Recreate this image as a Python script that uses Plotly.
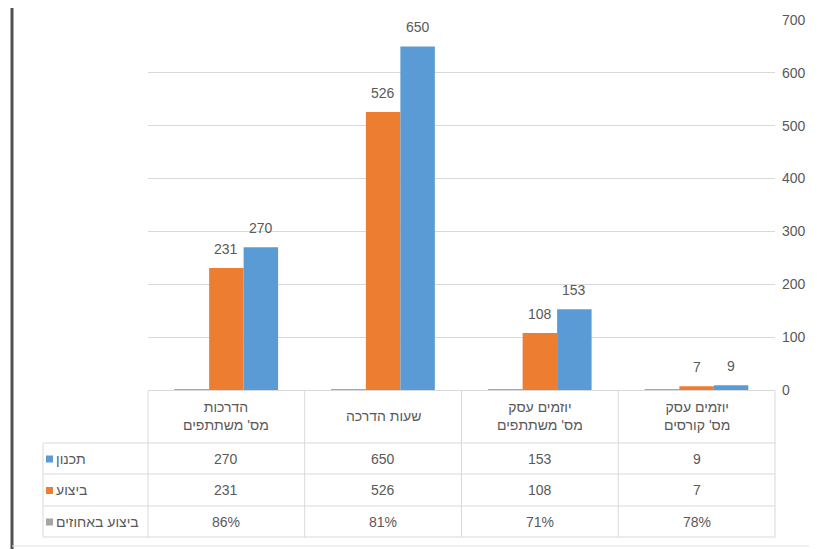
import plotly.graph_objects as go

categories = ["הדרכות<br>מס' משתתפים", "שעות הדרכה", "יוזמים עסק<br>מס' משתתפים", "יוזמים עסק<br>מס' קורסים"]
series_names = ["ביצוע באחוזים", "ביצוע", "תכנון"]
pct_values = [0.86, 0.81, 0.71, 0.78]
actual_values = [231, 526, 108, 7]
plan_values = [270, 650, 153, 9]
pct_labels = ["86%", "81%", "71%", "78%"]
y_ticks = [0, 100, 200, 300, 400, 500, 600, 700]

COL_GRAY = "#A5A5A5"
COL_ORANGE = "#ED7D31"
COL_BLUE = "#5B9BD5"
TXT = "#595959"
LINE = "#D9D9D9"
FONT = "Liberation Sans, DejaVu Sans, sans-serif"

OFF = 8  # default page body margin
W, H = 817 - OFF, 549 - OFF
L, R, T, B = 148 - OFF, 42, 20 - OFF, 159
PW, PH = W - L - R, H - T - B
BARGAP = 0.34


def px(x):
    # page pixel x -> paper
    return (x - OFF - L) / PW


def py(y):
    # page pixel y -> paper
    return (H - B - (y - OFF)) / PH


xs = list(range(len(categories)))

fig = go.Figure()
fig.add_bar(x=xs, y=pct_values, name=series_names[0], marker=dict(color=COL_GRAY, line=dict(color=COL_GRAY, width=1)))
fig.add_bar(x=xs, y=actual_values, name=series_names[1], marker=dict(color=COL_ORANGE, line=dict(width=0)))
fig.add_bar(x=xs, y=plan_values, name=series_names[2], marker=dict(color=COL_BLUE, line=dict(width=0)))

shapes = []
annotations = []

# data labels above orange and blue bars
bw = (1 - BARGAP) / 3
for k, vals in ((0, actual_values), (1, plan_values)):
    for i, v in enumerate(vals):
        annotations.append(dict(x=i + k * bw, xref="x", y=v, yref="y", text=str(v), showarrow=False,
                                xanchor="center", yanchor="middle", yshift=19,
                                font=dict(color=TXT, size=14, family=FONT)))

# table geometry (page pixels)
header_top, row_lines = 391, [443, 474, 506, 537]
col_x = [148 + 627 * i / len(categories) for i in range(len(categories) + 1)]
label_left = 43

for yl in row_lines:
    shapes.append(dict(type="line", xref="paper", yref="paper", x0=px(label_left), x1=px(col_x[-1]),
                       y0=py(yl), y1=py(yl), line=dict(color=LINE, width=1)))
for xc in col_x:
    shapes.append(dict(type="line", xref="paper", yref="paper", x0=px(xc), x1=px(xc),
                       y0=py(header_top), y1=py(row_lines[-1]), line=dict(color=LINE, width=1)))
shapes.append(dict(type="line", xref="paper", yref="paper", x0=px(label_left), x1=px(label_left),
                   y0=py(row_lines[0]), y1=py(row_lines[-1]), line=dict(color=LINE, width=1)))

for i, c in enumerate(categories):
    annotations.append(dict(x=i, xref="x", y=py(416), yref="paper", text=c, showarrow=False,
                            xanchor="center", yanchor="middle", font=dict(color=TXT, size=14, family=FONT)))

rows = [
    (series_names[2], COL_BLUE, [str(v) for v in plan_values]),
    (series_names[1], COL_ORANGE, [str(v) for v in actual_values]),
    (series_names[0], COL_GRAY, pct_labels),
]
for r, (name, col, vals) in enumerate(rows):
    yc = (row_lines[r] + row_lines[r + 1]) / 2
    shapes.append(dict(type="rect", xref="paper", yref="paper", x0=px(46), x1=px(53),
                       y0=py(yc + 4), y1=py(yc - 3), fillcolor=col, line=dict(width=0)))
    annotations.append(dict(x=px(54), xref="paper", y=py(yc), yref="paper", text=name, showarrow=False,
                            xanchor="left", yanchor="middle", font=dict(color=TXT, size=14, family=FONT)))
    for i, v in enumerate(vals):
        annotations.append(dict(x=i, xref="x", y=py(yc), yref="paper", text=v, showarrow=False,
                                xanchor="center", yanchor="middle", font=dict(color=TXT, size=14, family=FONT)))

# outer frame: dark left border and light bottom line
shapes.append(dict(type="line", xref="paper", yref="paper", x0=px(12), x1=px(12), y0=py(OFF), y1=py(549),
                   line=dict(color="#505050", width=3)))
shapes.append(dict(type="line", xref="paper", yref="paper", x0=px(12), x1=px(817), y0=py(546), y1=py(546),
                   line=dict(color="#E0E0E0", width=1)))

fig.update_layout(
    width=W, height=H,
    margin=dict(l=L, r=R, t=T, b=B, autoexpand=False),
    paper_bgcolor="white", plot_bgcolor="white",
    barmode="group", bargap=BARGAP, bargroupgap=0,
    showlegend=False,
    font=dict(family=FONT, color=TXT, size=14),
    xaxis=dict(range=[-0.5, len(categories) - 0.5], showticklabels=False, showgrid=False, zeroline=False,
               showline=True, linecolor=LINE, linewidth=1, ticks="", automargin=False),
    yaxis=dict(side="right", range=[0, 700], tickvals=y_ticks, showgrid=True, gridcolor=LINE, gridwidth=1,
               zeroline=False, showline=False, ticks="", automargin=False, ticklabelstandoff=6,
               tickfont=dict(color=TXT, size=14, family=FONT)),
    shapes=shapes,
    annotations=annotations,
)

fig.write_html("out.html")
